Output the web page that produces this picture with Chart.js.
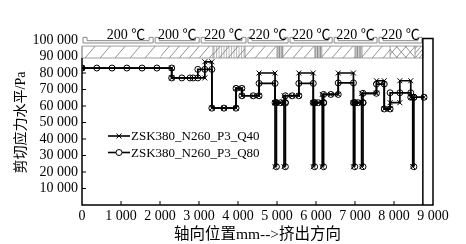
<!DOCTYPE html>
<html lang="zh">
<head>
<meta charset="UTF-8">
<title>剪切应力水平</title>
<script src="https://cdn.jsdelivr.net/npm/chart.js"></script>
<style>
  body { margin: 0; background: #fff; }
  #wrap { width: 466px; height: 244px; }
</style>
</head>
<body>
<div id="wrap"><canvas id="shearChart"></canvas></div>
<script>
// axial position (mm) and shear stress (Pa)
const q40Pos = [0, 2300, 2300, 3150, 3150, 3330, 3330, 3640, 3950, 3950, 4100, 4100, 4390, 4540,
  4540, 4950, 4950, 4950, 4950, 5070, 5180, 5180, 5180, 5180, 5390, 5560,
  5560, 5930, 5930, 5930, 5930, 6050, 6160, 6160, 6160, 6160, 6380, 6570,
  6570, 6960, 6960, 6960, 6960, 7070, 7170, 7170, 7170, 7170, 7550,
  7550, 7750, 7750, 7900, 7900, 8150, 8150, 8430, 8430, 8480, 8480, 8480, 8770];
const q40Shear = [83000, 83000, 77000, 77000, 86800, 86800, 58700, 58700, 58700, 70700, 70700, 66200, 66200, 66200,
  80000, 80000, 62000, 23200, 62000, 62000, 62000, 23200, 62000, 66200, 66200, 66200,
  80000, 80000, 62000, 23200, 62000, 62000, 62000, 23200, 62000, 67000, 67000, 67000,
  80000, 80000, 62000, 23200, 62000, 62000, 62000, 23200, 62000, 67700, 67700,
  75300, 75300, 58200, 58200, 62000, 62000, 75300, 75300, 65300, 65300, 23200, 65300, 65300];

const q80Pos = [0, 380, 770, 1150, 1540, 1920, 2300, 2300, 2560, 2770, 2850, 2970, 2970, 3150, 3330,
  3330, 3640, 3950, 3950, 4100, 4100, 4390, 4540,
  4540, 4950, 4950, 4985, 4985, 4985, 5100, 5215, 5215, 5215, 5215, 5390, 5560,
  5560, 5930, 5930, 5965, 5965, 5965, 6060, 6195, 6195, 6195, 6195, 6380, 6570,
  6570, 6960, 6960, 6995, 6995, 6995, 7080, 7205, 7205, 7205, 7205, 7550,
  7550, 7750, 7750, 7900, 7900, 8150, 8430, 8430, 8510, 8510, 8510, 8770];
const q80Shear = [83000, 83000, 83000, 83000, 83000, 83000, 83000, 77000, 77000, 77000, 77000, 77000, 82200, 82200, 82200,
  58700, 58700, 58700, 70700, 70700, 66200, 66200, 66200,
  73700, 73700, 62000, 62000, 23200, 62000, 62000, 62000, 23200, 62000, 66200, 66200, 66200,
  73700, 73700, 62000, 62000, 23200, 62000, 62000, 62000, 23200, 62000, 67000, 67000, 67000,
  74000, 74000, 62000, 62000, 23200, 62000, 62000, 62000, 23200, 62000, 67700, 67700,
  73300, 73300, 58200, 58200, 68000, 68000, 68000, 65300, 65300, 23200, 65300, 65300];

const seriesNames = ['ZSK380_N260_P3_Q40', 'ZSK380_N260_P3_Q80'];

// barrel temperature zones and screw layout (mm)
const zoneEdges = [0, 1850, 3030, 4230, 5310, 6440, 7590, 8740];
const zoneLabels = ['200 ℃', '200 ℃', '220 ℃', '220 ℃', '220 ℃', '220 ℃', '220 ℃'];
const kneadBlocks = [[3360, 4180], [5000, 5150], [5970, 6150], [7000, 7180]];
const reverseBlocks = [[7900, 8540]];
const screwEnd = 8740;

const serif = "'Liberation Serif', 'Noto Sans CJK SC', serif";
const thousands = v => String(v).replace(/\B(?=(\d{3})+(?!\d))/g, ' ');

function hatch(ctx, xa, xb, yA, yB, step, kind) {
  ctx.save();
  ctx.beginPath();
  ctx.rect(xa, yA, xb - xa, yB - yA);
  ctx.clip();
  ctx.beginPath();
  const h = yB - yA;
  if (kind === 'knead') {
    for (let s = xa + 1; s < xb; s += step) { ctx.moveTo(s, yA); ctx.lineTo(s, yB); }
  } else {
    for (let s = xa - h; s < xb + h; s += step) {
      ctx.moveTo(s, yB); ctx.lineTo(s + h * 0.85, yA);
      if (kind === 'reverse') { ctx.moveTo(s + h * 0.85, yB); ctx.lineTo(s, yA); }
    }
  }
  ctx.stroke();
  ctx.restore();
}

const screwBars = {
  id: 'screwBars',
  beforeDatasetsDraw(chart) {
    const { ctx, scales: { x, y } } = chart;
    const px = v => x.getPixelForValue(v);
    const py = v => y.getPixelForValue(v);
    ctx.save();

    // temperature zones
    const tTop = py(101600), tDip = py(99600), tBot = py(98200);
    ctx.strokeStyle = '#888';
    ctx.lineWidth = 1;
    ctx.font = '14px ' + serif;
    ctx.textAlign = 'center';
    ctx.textBaseline = 'alphabetic';
    ctx.fillStyle = '#000';
    zoneLabels.forEach((lab, i) => {
      const xa = px(zoneEdges[i]) + 1, xb = px(zoneEdges[i + 1]) - 1;
      ctx.beginPath();
      ctx.moveTo(xa, tBot); ctx.lineTo(xa, tTop); ctx.lineTo(xa + 4, tTop); ctx.lineTo(xa + 4, tDip);
      ctx.lineTo(xb - 4, tDip); ctx.lineTo(xb - 4, tTop); ctx.lineTo(xb, tTop); ctx.lineTo(xb, tBot);
      ctx.closePath();
      ctx.stroke();
      ctx.fillText(lab, (xa + xb) / 2 + (i === 0 ? 8 : 0), tDip - 1.5);
    });

    // screw elements
    const sA = py(96300), sB = py(89100);
    const blocks = kneadBlocks.map(b => [b[0], b[1], 'knead'])
      .concat(reverseBlocks.map(b => [b[0], b[1], 'reverse']))
      .sort((a, b) => a[0] - b[0]);
    let cur = 0;
    const segs = [];
    blocks.forEach(b => { if (b[0] > cur) segs.push([cur, b[0], 'convey']); segs.push(b); cur = b[1]; });
    segs.push([cur, screwEnd, 'tight']);
    ctx.lineWidth = 0.8;
    segs.forEach(([a, b, kind]) => {
      ctx.strokeStyle = '#777';
      if (kind === 'convey' && a === 0) {
        hatch(ctx, px(a), px(2030), sA, sB, 15, 'convey');
        hatch(ctx, px(2030), px(b), sA, sB, 10, 'convey');
      } else if (kind === 'knead') {
        if (b - a > 400) {
          ctx.strokeStyle = '#aaa';
          hatch(ctx, px(a), px(b), sA, sB, 2.5, 'knead');
          ctx.strokeStyle = '#777';
          hatch(ctx, px(a), px(b), sA, sB, 9, 'convey');
        } else {
          ctx.strokeStyle = '#666';
          hatch(ctx, px(a), px(b), sA, sB, 1.6, 'knead');
        }
      } else if (kind === 'reverse') {
        hatch(ctx, px(a), px(b), sA, sB, 9, 'reverse');
      } else if (kind === 'tight') {
        hatch(ctx, px(a), px(b), sA, sB, 4, 'convey');
      } else {
        hatch(ctx, px(a), px(b), sA, sB, 11, 'convey');
      }
    });
    ctx.strokeStyle = '#888';
    ctx.beginPath();
    ctx.rect(px(0), sA, px(screwEnd) - px(0), sB - sA);
    segs.forEach(s => { ctx.moveTo(px(s[0]), sA); ctx.lineTo(px(s[0]), sB); });
    ctx.stroke();

    // axes and frame
    const x0 = px(0), x9 = px(9000), yb = py(0);
    ctx.strokeStyle = '#000';
    ctx.lineWidth = 1.5;
    ctx.beginPath();
    ctx.moveTo(x0, sB); ctx.lineTo(x0, yb); ctx.lineTo(x9, yb); ctx.lineTo(x9, py(100900));
    ctx.lineTo(px(screwEnd), py(100900)); ctx.lineTo(px(screwEnd), yb);
    ctx.stroke();
    ctx.lineWidth = 1;
    ctx.beginPath();
    for (let v = 1000; v < 9000; v += 1000) { ctx.moveTo(px(v), yb); ctx.lineTo(px(v), yb - 4); }
    for (let v = 10000; v <= 80000; v += 10000) { ctx.moveTo(x0, py(v)); ctx.lineTo(x0 + 4, py(v)); }
    ctx.stroke();
    ctx.restore();
  },
  afterDraw(chart) {
    const { ctx } = chart;
    ctx.save();
    chart.data.datasets.forEach((ds, i) => {
      const ly = 136 + i * 16.5;
      ctx.strokeStyle = '#000';
      ctx.lineWidth = 1.6;
      ctx.beginPath(); ctx.moveTo(108, ly); ctx.lineTo(130, ly); ctx.stroke();
      ctx.lineWidth = 1;
      ctx.fillStyle = ds.pointStyle === 'circle' ? '#fff' : '#000';
      Chart.helpers.drawPoint(ctx, { pointStyle: ds.pointStyle, radius: ds.pointRadius, borderWidth: 1, rotation: 0 }, 119, ly);
      ctx.fillStyle = '#000';
      ctx.font = '13px ' + serif;
      ctx.textAlign = 'left';
      ctx.textBaseline = 'middle';
      ctx.fillText(ds.label, 131, ly + 1);
    });
    ctx.restore();
  }
};

const toPoints = (xs, ys) => xs.map((v, i) => ({ x: v, y: ys[i] }));

new Chart(document.getElementById('shearChart'), {
  type: 'scatter',
  data: {
    datasets: [
      {
        label: seriesNames[0],
        data: toPoints(q40Pos, q40Shear),
        showLine: true,
        borderColor: '#000',
        borderWidth: 1.7,
        pointStyle: 'crossRot',
        pointRadius: 3.5,
        pointBorderColor: '#000',
        pointBackgroundColor: '#000',
        pointBorderWidth: 1
      },
      {
        label: seriesNames[1],
        data: toPoints(q80Pos, q80Shear),
        showLine: true,
        borderColor: '#000',
        borderWidth: 1.7,
        pointStyle: 'circle',
        pointRadius: 3,
        pointBorderColor: '#000',
        pointBackgroundColor: 'rgba(255,255,255,0)',
        pointBorderWidth: 1
      }
    ]
  },
  options: {
    responsive: true,
    maintainAspectRatio: false,
    animation: false,
    layout: { padding: { top: 40, right: 33, left: 0, bottom: 0 } },
    plugins: { legend: { display: false }, tooltip: { enabled: false } },
    scales: {
      x: {
        type: 'linear', min: 0, max: 9000,
        grid: { display: false, drawTicks: false },
        border: { display: false },
        ticks: { stepSize: 1000, padding: 3, color: '#000', maxRotation: 0, autoSkip: false,
          font: { family: serif, size: 14 }, callback: v => thousands(v) },
        title: { display: true, text: '轴向位置mm-->挤出方向', color: '#000',
          font: { family: serif, size: 15.5 }, padding: { top: 0, bottom: 0 } },
        afterFit: s => { s.height = 39; }
      },
      y: {
        type: 'linear', min: 0, max: 100000,
        grid: { display: false, drawTicks: false },
        border: { display: false },
        ticks: { stepSize: 10000, padding: 4, color: '#000', autoSkip: false,
          font: { family: serif, size: 14 }, callback: v => (v === 0 ? '' : thousands(v)) },
        title: { display: true, text: '剪切应力水平/Pa', color: '#000',
          font: { family: serif, size: 14 }, padding: { top: 13, bottom: 0 } },
        afterFit: s => { s.width = 82; }
      }
    }
  },
  plugins: [screwBars]
});
</script>
</body>
</html>
